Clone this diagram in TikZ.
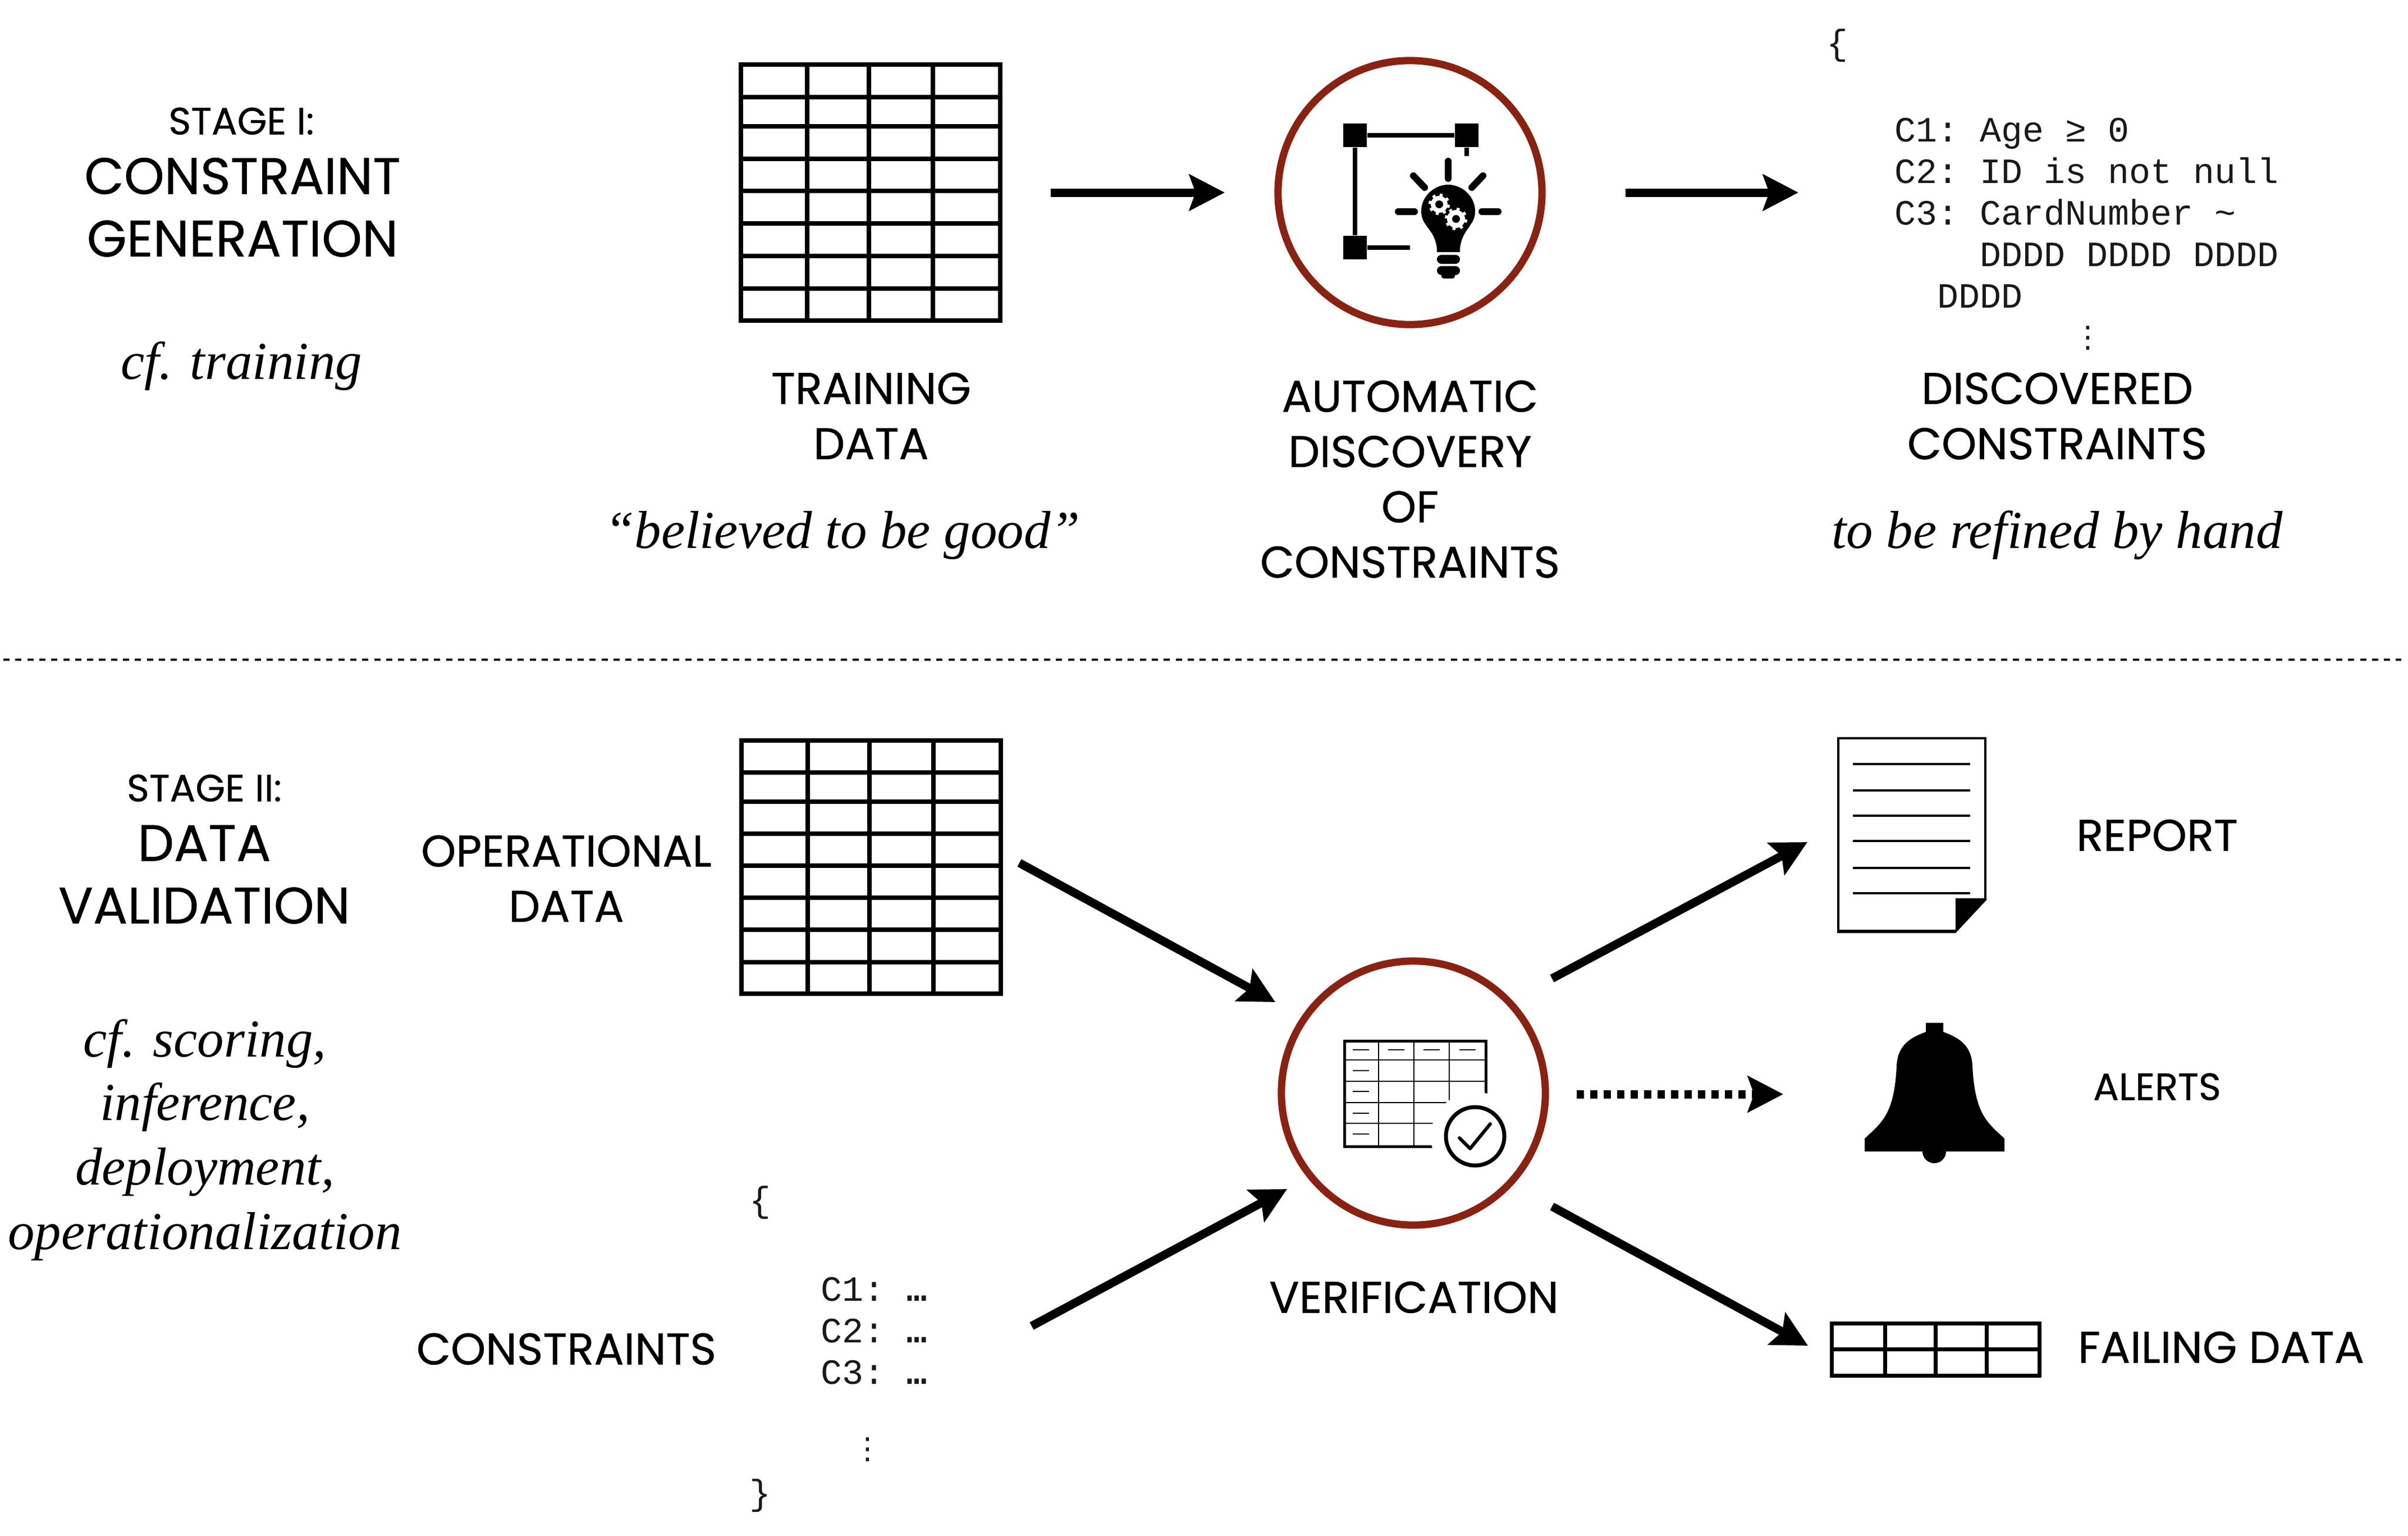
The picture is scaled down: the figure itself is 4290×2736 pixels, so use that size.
\documentclass[tikz,border=0pt]{standalone}
\usepackage{fontspec}
\usetikzlibrary{positioning,arrows.meta}
\setmainfont{Liberation Serif}
\newfontfamily\labelfont[FakeBold=0.5]{Poppins}
\newfontfamily\dotfont{DejaVu Sans}
\newfontfamily\ellfont{DejaVu Sans Mono}
\setmonofont{Liberation Mono}
\definecolor{ringred}{HTML}{8A2212}
% one table: left edge, top edge, height, name
\newcommand{\datagrid}[4]{
    \node[tbl,anchor=north west,minimum width=4.62cm,minimum height=#3*0.01cm] (#4) at (#1,#2) {};
    \foreach \c in {118,228,342}
        \draw[gridline] ([xshift=\c*0.01cm]#4.north west) -- ([xshift=\c*0.01cm]#4.south west);
    \foreach \r in {58,110,168,225,283,341,399}
        \draw[gridline] ([yshift=-\r*0.01cm*(#3/456)]#4.north west) -- ([yshift=-\r*0.01cm*(#3/456)]#4.north east);
}
% white gear on the bulb
\newcommand{\geartooth}[3]{
    \fill[white] (#1,#2) circle (#3-4);
    \foreach \a in {0,45,...,315}
        \draw[white,line width=0.055cm] (#1,#2) +(\a+12:#3-6) -- +(\a+12:#3);
    \fill[black] (#1,#2) circle (7);
}
\begin{document}
\begin{tikzpicture}
                [x=0.01cm,y=-0.01cm,
                lbl/.style={inner sep=0,font=\labelfont\fontsize{22.5}{27}\selectfont,text height=0.57cm,text depth=0},
                biglbl/.style={lbl,font=\labelfont\fontsize{26}{31}\selectfont,text height=0.65cm},
                smalllbl/.style={lbl,font=\labelfont\fontsize{19.3}{24}\selectfont,text height=0.51cm},
                note/.style={inner sep=0,font=\itshape\fontsize{27}{32}\selectfont,text height=0.62cm,text depth=0.18cm},
                code/.style={inner sep=0,align=left,font=\ttfamily\fontsize{18}{21.07}\selectfont,text=black!90},
                vdot/.style={inner sep=0,font=\dotfont\fontsize{15}{18}\selectfont,text=black!90},
                ring/.style={circle,draw=ringred,line width=0.13cm,minimum size=4.7cm,inner sep=0},
                tbl/.style={rectangle,draw,line width=0.08cm,inner sep=0,outer sep=0},
                gridline/.style={line width=0.08cm},
                thingrid/.style={line width=0.025cm},
                arr/.style={-{Stealth[length=0.63cm,width=0.64cm,inset=0.11cm]},line width=0.15cm},
                dotarr/.style={arr,dash pattern=on 0.13cm off 0.11cm},
                block/.style={rectangle,fill=black,minimum size=0.42cm,inner sep=0}]
                \useasboundingbox (0,0) rectangle (4290,2736);
                % stage one, left column
                \node[smalllbl] (stagea) at (430,214) {STAGE I:};
                \node[biglbl] (consgen) at (432,313) {CONSTRAINT};
                \node[biglbl] (gen)[below=0.45cm of consgen]{GENERATION};
                \node[note] (cftrain) at (430,653) {cf. training};
                % training data
                \datagrid{1320}{115}{456}{traintable}
                \node[lbl] (trainlbl) at (1552,691) {TRAINING};
                \node[lbl] (datalbl)[below=0.4cm of trainlbl]{DATA};
                \node[note] (believed) at (1501,954) {``believed to be good''};
                % discovery
                \node[ring] (discover) at (2512,343) {};
                \node[block] (sqa) at (2414,241) {};
                \node[block] (sqb) at (2613,241) {};
                \node[block] (sqc) at (2414,441) {};
                \coordinate (stubb) at (2613,278);
                \coordinate (stubc) at (2512,441);
                \draw[line width=0.08cm] (sqa) -- (sqb) (sqa) -- (sqc) (sqb) -- (stubb) (sqc) -- (stubc);
                \fill (2560,444) .. controls (2558,420) and (2546,410) .. (2540,400)
                    .. controls (2534,392) and (2532,384) .. (2532,376)
                    .. controls (2532,350) and (2555,329) .. (2580,329)
                    .. controls (2605,329) and (2628,350) .. (2628,376)
                    .. controls (2628,384) and (2626,392) .. (2620,400)
                    .. controls (2614,410) and (2603,420) .. (2601,444)
                    -- (2601,449) -- (2560,449) -- cycle;
                \draw[line width=0.16cm,line cap=round] (2568,462) -- (2593,462) (2568,482) -- (2593,482);
                \fill[rounded corners=0.04cm] (2568,482) rectangle (2592,496);
                \draw[line width=0.12cm,line cap=round]
                    (2580,287) -- (2580,318) (2491,377) -- (2520,377) (2640,377) -- (2669,377)
                    (2518,313) -- (2538,334) (2642,313) -- (2622,334);
                \geartooth{2564}{364}{19}
                \geartooth{2594}{390}{20}
                \node[lbl] (autolbl) at (2512,705) {AUTOMATIC};
                \node[lbl] (disclbl)[below=0.4cm of autolbl]{DISCOVERY};
                \node[lbl] (oflbl)[below=0.4cm of disclbl]{OF};
                \node[lbl] (conslbl)[below=0.4cm of oflbl]{CONSTRAINTS};
                % discovered constraints
                \node[code] (bracea) at (3273,81) {\{};
                \node[code,anchor=north west] (rules) at (3375,209) {C1: Age ≥ 0\\C2: ID is not null\\C3: CardNumber \textasciitilde\\\phantom{DDDD}DDDD DDDD DDDD\\\phantom{DD}DDDD};
                \node[vdot] (moredots) at (3720,602) {⋮};
                \node[lbl] (foundlbl) at (3665,691) {DISCOVERED};
                \node[lbl] (foundcons)[below=0.4cm of foundlbl]{CONSTRAINTS};
                \node[note] (refine) at (3665,954) {to be refined by hand};
                % the two upper arrows
                \coordinate (ain) at (1872,343);
                \coordinate (aout) at (2182,343);
                \coordinate (bin) at (2896,343);
                \coordinate (bout) at (3204,343);
                \draw[arr] (ain) -- (aout);
                \draw[arr] (bin) -- (bout);
                % divider
                \coordinate (divl) at (6,1175);
                \coordinate (divr) at (4278,1175);
                \draw[line width=0.045cm,dash pattern=on 0.11cm off 0.103cm] (divl) -- (divr);
                % stage two, left column
                \node[smalllbl] (stageb) at (364,1402) {STAGE II:};
                \node[biglbl] (datab) at (364,1501) {DATA};
                \node[biglbl] (valid)[below=0.45cm of datab]{VALIDATION};
                \node[note] (cfa) at (365,1860) {cf. scoring,};
                \node[note] (cfb) at (365,1973) {inference,};
                \node[note] (cfc) at (365,2088) {deployment,};
                \node[note] (cfd) at (365,2203) {operationalization};
                % operational data
                \node[lbl] (oplbl) at (1009,1515) {OPERATIONAL};
                \node[lbl] (opdata)[below=0.4cm of oplbl]{DATA};
                \datagrid{1321}{1319}{451}{optable}
                \node[lbl] (conslist) at (1009,2402) {CONSTRAINTS};
                \node[code] (braceb) at (1354,2142) {\{};
                \node[code,anchor=north west] (rulesb) at (1462,2274) {C1: {\ellfont …}\\C2: {\ellfont …}\\C3: {\ellfont …}};
                \node[vdot] (moredotsb) at (1546,2582) {⋮};
                \node[code] (bracec) at (1354,2664) {\}};
                % verification
                \node[ring] (verify) at (2518,1947) {};
                \node[rectangle,draw,line width=0.05cm,inner sep=0,anchor=north west,minimum width=2.52cm,minimum height=1.88cm] (smalltbl) at (2393,1852) {};
                \foreach \c in {2456,2519,2582}
                    \draw[thingrid] (\c,1852) -- (\c,2040);
                \foreach \r in {1888,1926,1964,2001}
                    \draw[thingrid] (2393,\r) -- (2645,\r);
                \foreach \c/\r in {2410/1870,2473/1870,2536/1870,2600/1870,2410/1907,2410/1944,2410/1983,2410/2020}
                    \draw[line width=0.02cm] (\c,\r) -- ++(29,0);
                \node[circle,fill=white,minimum size=1.58cm,inner sep=0] (halo) at (2628,2024) {};
                \node[circle,draw,line width=0.07cm,minimum size=1.04cm,inner sep=0] (okmark) at (2628,2024) {};
                \draw[line width=0.06cm,line cap=round,line join=round] (2600,2027) -- (2619,2046) -- (2655,2002);
                \node[lbl] (verlbl) at (2519,2310) {VERIFICATION};
                % outputs
                \node[rectangle,draw,fill=white,line width=0.04cm,anchor=north west,minimum width=2.62cm,minimum height=3.45cm,inner sep=0] (report) at (3273,1313) {};
                \foreach \r in {1361,1408,1453,1498,1546,1591}
                    \draw[line width=0.035cm] (3301,\r) -- (3510,\r);
                \fill[white] (3484,1603) rectangle (3543,1665);
                \draw[line width=0.04cm] (3535,1602) -- (3484,1602) (3273,1658) -- (3484,1658);
                \fill (3484,1602) -- (3540,1602) -- (3484,1662) -- cycle;
                \node[lbl] (replbl) at (3843,1487) {REPORT};
                \fill (3322,2051) -- (3322,2028) .. controls (3352,2000) and (3375,1985) .. (3379,1898)
                    .. controls (3381,1860) and (3405,1848) .. (3431,1838) -- (3431,1822) -- (3462,1822) -- (3462,1838)
                    .. controls (3488,1848) and (3512,1860) .. (3514,1898)
                    .. controls (3518,1985) and (3541,2000) .. (3571,2028) -- (3571,2051) -- cycle;
                \fill (3446,2051) circle (21);
                \node[smalllbl] (alertlbl) at (3843,1934) {ALERTS};
                \node[tbl,anchor=north west,minimum width=3.7cm,minimum height=0.93cm,line width=0.07cm] (failtable) at (3263,2357) {};
                \foreach \c in {3358,3448,3539}
                    \draw[gridline,line width=0.07cm] (\c,2357) -- (\c,2450);
                \draw[gridline,line width=0.07cm] (failtable.west) -- (failtable.east);
                \node[lbl] (faillbl) at (3957,2399) {FAILING DATA};
                % arrows round the verification
                \coordinate (opout) at (1816,1537);
                \coordinate (verin) at (2272,1785);
                \coordinate (consout) at (1838,2362);
                \coordinate (verinb) at (2293,2118);
                \coordinate (vera) at (2765,1743);
                \coordinate (repin) at (3220,1500);
                \coordinate (verb) at (2809,1949);
                \coordinate (alertin) at (3177,1949);
                \coordinate (verc) at (2765,2149);
                \coordinate (failin) at (3221,2397);
                \draw[arr] (opout) -- (verin);
                \draw[arr] (consout) -- (verinb);
                \draw[arr] (vera) -- (repin);
                \draw[dotarr] (verb) -- (alertin);
                \draw[arr] (verc) -- (failin);
            \end{tikzpicture}
\end{document}
